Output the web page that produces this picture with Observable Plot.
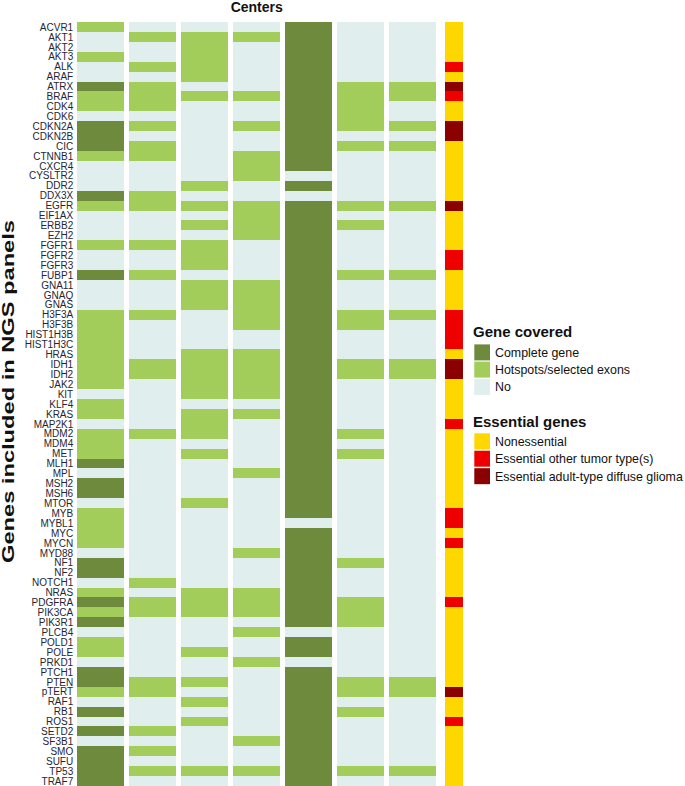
<!DOCTYPE html>
<html>
<head>
<meta charset="utf-8">
<script src="https://cdn.jsdelivr.net/npm/d3@7"></script>
<script src="https://cdn.jsdelivr.net/npm/@observablehq/plot@0.6"></script>
<style>
  html, body { margin: 0; padding: 0; overflow: hidden; background: #fff; }
  #wrap { position: relative; width: 685px; height: 786px; overflow: hidden; }
  #wrap svg { position: absolute; left: 0; top: 0; }
</style>
</head>
<body>
<div id="wrap"></div>
<script>
// ---------------- DATA ----------------
const genes = ["ACVR1","AKT1","AKT2","AKT3","ALK","ARAF","ATRX","BRAF","CDK4","CDK6",
  "CDKN2A","CDKN2B","CIC","CTNNB1","CXCR4","CYSLTR2","DDR2","DDX3X","EGFR","EIF1AX",
  "ERBB2","EZH2","FGFR1","FGFR2","FGFR3","FUBP1","GNA11","GNAQ","GNAS","H3F3A",
  "H3F3B","HIST1H3B","HIST1H3C","HRAS","IDH1","IDH2","JAK2","KIT","KLF4","KRAS",
  "MAP2K1","MDM2","MDM4","MET","MLH1","MPL","MSH2","MSH6","MTOR","MYB",
  "MYBL1","MYC","MYCN","MYD88","NF1","NF2","NOTCH1","NRAS","PDGFRA","PIK3CA",
  "PIK3R1","PLCB4","POLD1","POLE","PRKD1","PTCH1","PTEN","pTERT","RAF1","RB1",
  "ROS1","SETD2","SF3B1","SMO","SUFU","TP53","TRAF7"];

const centers = ["Center 1","Center 2","Center 3","Center 4","Center 5","Center 6","Center 7"];

// C = Complete gene, H = Hotspots/selected exons, N = No  (one entry per gene, in order)
const center1 = ["H","N","N","H","N","N","C","H","H","N", "C","C","C","H","N","N","N","C","H","N",
  "N","N","H","N","N","C","N","N","N","H", "H","H","H","H","H","H","H","N","H","H",
  "N","H","H","H","C","N","C","C","N","H", "H","H","H","N","C","C","N","H","C","H",
  "C","N","H","H","N","C","C","H","N","C", "N","C","N","C","C","C","C"];
const center2 = ["N","H","N","N","H","N","H","H","H","N", "H","N","H","H","N","N","N","H","H","N",
  "N","N","H","N","N","H","N","N","N","H", "N","N","N","N","H","H","N","N","N","N",
  "N","H","N","N","N","N","N","N","N","N", "N","N","N","N","N","N","H","N","H","H",
  "N","N","N","N","N","N","H","H","N","N", "N","H","N","H","N","H","N"];
const center3 = ["N","H","H","H","H","H","N","H","N","N", "N","N","N","N","N","N","H","N","H","N",
  "H","N","H","H","H","N","H","H","H","N", "N","N","N","H","H","H","H","H","N","H",
  "H","H","N","H","N","N","N","N","H","N", "N","N","N","N","N","N","N","H","H","H",
  "N","N","N","H","N","N","H","N","H","N", "H","N","N","N","N","H","N"];
const center4 = ["N","H","N","N","N","N","N","H","N","N", "H","N","N","H","H","H","N","N","H","H",
  "H","H","N","N","N","N","H","H","H","H", "H","N","N","H","H","H","H","H","N","H",
  "N","N","N","N","N","H","N","N","N","N", "N","N","N","H","N","N","N","H","H","H",
  "N","H","N","N","H","N","N","N","N","N", "N","N","H","N","N","H","N"];
const center5 = ["C","C","C","C","C","C","C","C","C","C", "C","C","C","C","C","N","C","N","C","C",
  "C","C","C","C","C","C","C","C","C","C", "C","C","C","C","C","C","C","C","C","C",
  "C","C","C","C","C","C","C","C","C","C", "N","C","C","C","C","C","C","C","C","C",
  "C","N","C","C","N","C","C","C","C","C", "C","C","C","C","C","C","C"];
const center6 = ["N","N","N","N","N","N","H","H","H","H", "H","N","H","N","N","N","N","N","H","N",
  "H","N","N","N","N","H","N","N","N","H", "H","N","N","N","H","H","N","N","N","N",
  "N","H","N","H","N","N","N","N","N","N", "N","N","N","N","H","N","N","N","H","H",
  "H","N","N","N","N","N","H","H","N","H", "N","N","N","N","N","H","N"];
const center7 = ["N","N","N","N","N","N","H","H","N","N", "H","N","H","N","N","N","N","N","H","N",
  "N","N","N","N","N","H","N","N","N","H", "N","N","N","N","H","H","N","N","N","N",
  "N","N","N","N","N","N","N","N","N","N", "N","N","N","N","N","N","N","N","N","N",
  "N","N","N","N","N","N","H","H","N","N", "N","N","N","N","N","H","N"];

// E = Nonessential, O = Essential other tumor type(s), G = Essential adult-type diffuse glioma
const essential = ["E","E","E","E","O","E","G","O","E","E", "G","G","E","E","E","E","E","E","G","E",
  "E","E","E","O","O","E","E","E","E","O", "O","O","O","E","G","G","E","E","E","E",
  "O","E","E","E","E","E","E","E","E","O", "O","E","O","E","E","E","E","E","O","E",
  "E","E","E","E","E","E","E","G","E","E", "O","E","E","E","E","E","E"];

const coverCodes  = ["C","H","N"];
const coverLabels = ["Complete gene","Hotspots/selected exons","No"];
const coverColors = ["#6E8B3D","#A2CD5A","#E0EEEE"];

const essCodes  = ["E","O","G"];
const essLabels = ["Nonessential","Essential other tumor type(s)","Essential adult-type diffuse glioma"];
const essColors = ["#FFD700","#EE0000","#8B0000"];

// ---------------- BUILD ----------------
const centerValues = [center1, center2, center3, center4, center5, center6, center7];
const coverData = [];
centers.forEach((c, j) => centerValues[j].forEach((v, i) => coverData.push({center: c, gene: genes[i], code: v})));
const essData = essential.map((v, i) => ({col: "Essential", gene: genes[i], code: v}));

const W = 685, H = 786;
const font = "'Liberation Sans', Arial, Helvetica, sans-serif";

const main = Plot.plot({
  width: W, height: H,
  marginLeft: 76.7, marginRight: W - 436.7, marginTop: 22, marginBottom: 0,
  x: {domain: centers, axis: null, paddingInner: 0.092, paddingOuter: 0},
  y: {domain: genes, paddingInner: 0, paddingOuter: 0, tickSize: 0, tickPadding: 4, label: null},
  color: {domain: coverCodes, range: coverColors},
  style: {fontFamily: font, fontSize: "10px", color: "#262633", background: "transparent"},
  marks: [
    Plot.cell(coverData, {x: "center", y: "gene", fill: "code", inset: 0, shapeRendering: "crispEdges"})
  ]
});

const ess = Plot.plot({
  width: W, height: H,
  marginLeft: 445, marginRight: W - 463.3, marginTop: 22, marginBottom: 0,
  x: {domain: ["Essential"], axis: null, padding: 0},
  y: {domain: genes, padding: 0, axis: null},
  color: {domain: essCodes, range: essColors},
  style: {background: "transparent"},
  marks: [
    Plot.cell(essData, {x: "col", y: "gene", fill: "code", inset: 0, shapeRendering: "crispEdges"})
  ]
});

const wrap = document.getElementById("wrap");
wrap.appendChild(main);
wrap.appendChild(ess);

// Titles and legend
const svg = d3.select(main);
svg.append("text")
  .attr("x", 256.7).attr("y", 12)
  .attr("text-anchor", "middle")
  .attr("font-family", font).attr("font-weight", "bold").attr("font-size", 14)
  .attr("fill", "#111")
  .text("Centers");

svg.append("text")
  .attr("transform", "translate(13.5,391.5) rotate(-90)")
  .attr("text-anchor", "middle")
  .attr("font-family", font).attr("font-weight", "bold").attr("font-size", 16)
  .attr("textLength", 343).attr("lengthAdjust", "spacingAndGlyphs")
  .attr("fill", "#111")
  .text("Genes included in NGS panels");

const leg = d3.select(ess).append("g")
  .attr("font-family", font).attr("fill", "#111").attr("text-anchor", "start");
function legendBlock(title, titleY, labels, colors, tops) {
  leg.append("text").attr("x", 473).attr("y", titleY).attr("text-anchor", "start")
    .attr("font-weight", "bold").attr("font-size", 15).text(title);
  labels.forEach((lab, k) => {
    leg.append("rect").attr("x", 474.3).attr("y", tops[k]).attr("width", 15.7).attr("height", 16)
      .attr("fill", colors[k]);
    leg.append("text").attr("x", 495).attr("y", tops[k] + 12.3).attr("text-anchor", "start")
      .attr("font-size", 12.4).text(lab);
  });
}
legendBlock("Gene covered", 337.3, coverLabels, coverColors, [344.4, 361.6, 378.9]);
legendBlock("Essential genes", 426.7, essLabels, essColors, [433.3, 450.7, 468.2]);
</script>
</body>
</html>
